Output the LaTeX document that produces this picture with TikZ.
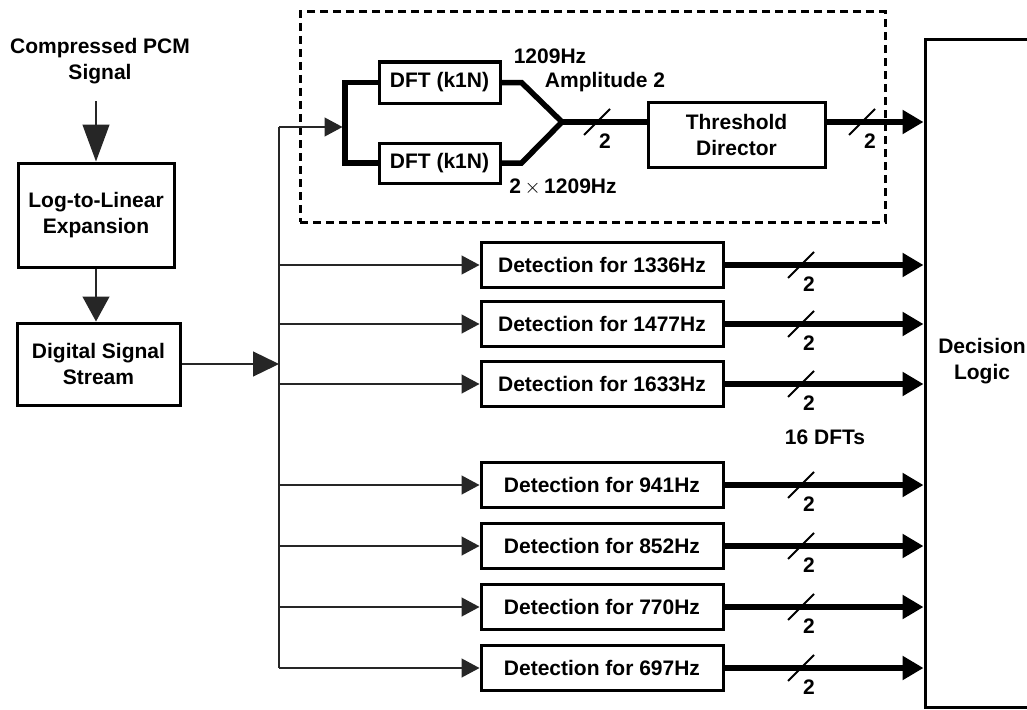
\documentclass[tikz,border=0pt]{standalone}
\usepackage{fontspec}
\setmainfont{Liberation Sans}
\usetikzlibrary{arrows.meta}

\begin{document}
\begin{tikzpicture}[x=1pt,y=-1pt,
  every node/.style={font=\fontsize{21}{26}\selectfont\bfseries, align=center, inner sep=2pt},
  blk/.style={draw, line width=3pt, inner sep=0pt, align=center},
  detbox/.style={blk, minimum width=242pt, minimum height=45pt},
  thinline/.style={line width=1.3pt, draw=black!85},
  busline/.style={line width=5.5pt},
  smalltip/.style={-{Triangle[length=18pt,width=19pt]}},
  bigtip/.style={-{Triangle[length=21pt,width=23pt]}},
  bw/.pic={
    \draw[line width=2pt] (-13,13) -- (13,-13);
    \node (-n) at (8,19) {2};
  }]

\useasboundingbox (0,0) rectangle (1027,709);
\clip (0,0) rectangle (1027,709);

% input chain on the left
\node (src) at (100,61) {Compressed PCM\\Signal};
\node[blk, minimum width=156pt, minimum height=104pt] (log) at (96,215) {Log-to-Linear\\Expansion};
\node[blk, minimum width=163pt, minimum height=82pt] (dig) at (98.5,364) {Digital Signal\\Stream};

\draw[thinline, -{Triangle[length=37pt,width=27pt]}] ([yshift=-15pt]src.south -| log.north) -- (log.north);
\draw[thinline, -{Triangle[length=25pt,width=27pt]}] (log.south) -- (log.south |- dig.north);

% distribution bus
\coordinate (bt) at (279,127);
\coordinate (bb) at (279,668);
\draw[thinline] (bt) -- (bb);
\draw[thinline, -{Triangle[length=26pt,width=25pt]}] (dig.east) -- (dig.east -| bt);

% decision block (runs past the right edge)
\node[blk, minimum width=115pt, minimum height=667pt] (dec) at (982.5,373.5) {};
\node (declbl) at (982,361) {Decision\\Logic};

% DFT pair with threshold detector for 1209 Hz
\node[draw, line width=3pt, dash pattern=on 8pt off 5pt, minimum width=585pt, minimum height=210pt, inner sep=0pt] (grp) at (592.5,117) {};
\node[blk, minimum width=121pt, minimum height=41pt] (dft1) at (439.5,82.5) {DFT (k1N)};
\node[blk, minimum width=121pt, minimum height=40pt] (dft2) at (439.5,163) {DFT (k1N)};
\node[blk, minimum width=177pt, minimum height=65pt] (thr) at (736.5,134.5) {Threshold\\Director};

\coordinate (fork) at (345,127);
\coordinate (j1) at ([xshift=20pt]dft1.east);
\coordinate (j2) at ([xshift=20pt]dft2.east);
\coordinate (merge) at (562,122);

\draw[thinline, smalltip, shorten >=2.5pt] (bt) -- (fork);
\draw[busline] (dft1.west) -| (fork) |- (dft2.west);
\draw[busline, line join=miter] (dft1.east) -- (j1) -- (merge) -- (j2) -- (dft2.east);
\draw[busline] (merge) -- (merge -| thr.west);
\draw[busline, bigtip] (merge -| thr.east) -- (merge -| dec.west);

\node (f1) at (550,56) {1209Hz};
\node (f2) at (605,82) {Amplitude 2};
\node (f3) at (563,187) {2\,$\times$\,1209Hz};

\pic (ma) at (597,122) {bw};
\pic (mb) at (862,122) {bw};

% remaining tone detectors
\foreach \f/\y [count=\i] in {1336/265, 1477/324, 1633/384, 941/485, 852/546, 770/607, 697/668} {
  \node[detbox] (det\i) at (602,\y) {Detection for \f Hz};
  \draw[thinline, smalltip] (det\i.west -| bt) -- (det\i.west);
  \draw[busline, bigtip] (det\i.east) -- (det\i.east -| dec.west);
  \pic (m\i) at (801,\y) {bw};
}

\node (cnt) at (825,437) {16 DFTs};

\end{tikzpicture}
\end{document}
